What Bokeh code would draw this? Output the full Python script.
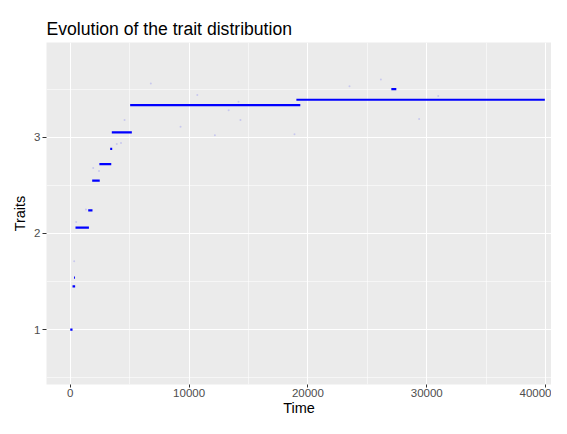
from bokeh.plotting import figure
from bokeh.models import FixedTicker, Range1d
from bokeh.embed import file_html
from bokeh.resources import INLINE

# Dominant trait segments (time start, time end, trait value)
seg_start = [0, 190, 320, 440, 1510, 1845, 2450, 3360, 3496, 5040, 19030, 27020]
seg_end   = [190, 410, 400, 1570, 1870, 2480, 3450, 3530, 5182, 19360, 39940, 27440]
seg_trait = [1.00, 1.45, 1.54, 2.06, 2.24, 2.55, 2.72, 2.88, 3.05, 3.335, 3.39, 3.50]

# Rare mutants (faint points)
mut_time  = [4570, 3910, 4270, 1930, 2420, 1320, 500, 9280, 12170, 330,
             6780, 13330, 14160, 14320, 18870, 10690, 23500, 26140, 29360, 30970]
mut_trait = [3.18, 2.93, 2.94, 2.68, 2.65, 2.25, 2.12, 3.11, 3.02, 1.71,
             3.56, 3.28, 3.37, 3.18, 3.03, 3.44, 3.53, 3.60, 3.19, 3.43]

x_major = [0, 10000, 20000, 30000, 40000]
x_minor = [5000, 15000, 25000, 35000]
y_major = [1, 2, 3]
y_minor = [0.5, 1.5, 2.5, 3.5]

FONT = "Liberation Sans"

p = figure(width=551, height=418, output_backend="svg", toolbar_location=None,
           title="Evolution of the trait distribution",
           x_range=Range1d(-2000, 40500), y_range=Range1d(0.43, 3.985),
           min_border_left=46, min_border_right=0, min_border_top=42,
           min_border_bottom=0)

p.background_fill_color = "#EBEBEB"
p.border_fill_color = "white"
p.outline_line_color = None

p.title.text_font = FONT
p.title.text_font_size = "17.6px"
p.title.text_font_style = "normal"
p.title.text_color = "black"
p.title.align = "left"
p.title.standoff = 8

for ax, major, minor in ((p.xaxis[0], x_major, x_minor), (p.yaxis[0], y_major, y_minor)):
    ax.ticker = FixedTicker(ticks=major, minor_ticks=minor)
    ax.axis_line_color = None
    ax.major_tick_line_color = "#333333"
    ax.major_tick_in = 0
    ax.major_tick_out = 4
    ax.minor_tick_line_color = None
    ax.major_label_text_font = FONT
    ax.major_label_text_font_size = "11.5px"
    ax.major_label_text_color = "#4D4D4D"
    ax.major_label_standoff = 2
    ax.axis_label_text_font = FONT
    ax.axis_label_text_font_size = "14.5px"
    ax.axis_label_text_font_style = "normal"
    ax.axis_label_text_color = "black"
    ax.axis_label_standoff = 3

p.xaxis.major_tick_out = 3
p.xaxis.axis_label_standoff = 0
p.xaxis.major_label_standoff = 0
p.xaxis.axis_label = "Time"
p.yaxis.axis_label = "Traits"
p.yaxis.major_label_orientation = "horizontal"

for g in (p.xgrid[0], p.ygrid[0]):
    g.grid_line_color = "white"
    g.grid_line_width = 1.1
    g.minor_grid_line_color = "white"
    g.minor_grid_line_width = 0.55

p.scatter(mut_time, mut_trait, size=2, color="blue", alpha=0.15, line_color=None)
p.segment(x0=seg_start, x1=seg_end, y0=seg_trait, y1=seg_trait,
          line_color="blue", line_width=2.2)

open("out.html", "w").write(file_html(p, INLINE))
